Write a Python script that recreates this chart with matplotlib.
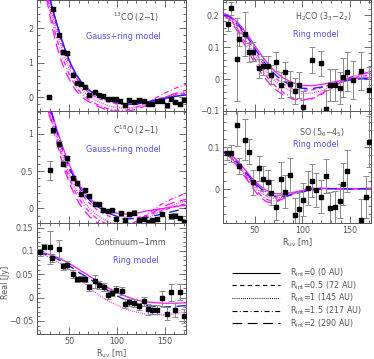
import numpy as np
import matplotlib.pyplot as plt
from matplotlib.lines import Line2D
from matplotlib.ticker import MultipleLocator

plt.rcParams['font.family'] = 'DejaVu Sans'
plt.rcParams['font.size'] = 5.8
plt.rcParams['lines.scale_dashes'] = False

GREY = '#555555'
BLUE = '#2020ff'
MAG = '#ff10ff'

# ---- observed visibilities ----
r_line = [29, 33, 39.3, 43.5, 47.6, 54, 58.4, 62.5, 66.4, 71, 77, 81.4, 85.9, 90.7, 94.9,
          98.7, 102.9, 108, 113, 118, 123, 128, 132.5, 137, 142, 146.6, 152, 156, 160.5,
          165.6, 169.5]
co13_val = [0.0, 2.54, 1.8, 1.3, 1.27, 0.63, 0.4, 0.37, 0.28, 0.06, 0.14, 0.05, 0.03, -0.04,
            -0.06, -0.05, -0.1, -0.23, -0.07, -0.14, -0.07, -0.12, -0.2, -0.19, -0.11, -0.1,
            -0.24, -0.06, -0.13, -0.2, -0.07]
co13_err = [0.04, 0.06, 0.06, 0.05, 0.05, 0.05, 0.04, 0.04, 0.04, 0.04, 0.04, 0.04, 0.04, 0.04,
            0.04, 0.04, 0.04, 0.05, 0.04, 0.04, 0.04, 0.04, 0.05, 0.05, 0.05, 0.05, 0.06, 0.05,
            0.05, 0.06, 0.06]

r_c18o = [30.2, 33, 39.3, 43.5, 47.6, 54, 58.4, 62.5, 66.4, 71, 77, 81.4, 85.9, 90.7, 94.9,
          98.7, 104.5, 108, 113, 118, 123, 128, 132.5, 137, 142, 146.6, 156, 160.5, 165.6,
          169.5]
c18o_val = [0.51, 1.05, 0.86, 0.6, 0.67, 0.41, 0.34, 0.19, 0.25, 0.17, 0.05, 0.05, -0.03,
            -0.04, -0.03, -0.14, -0.07, -0.16, -0.08, -0.06, -0.16, -0.15, -0.18, -0.16, -0.15,
            -0.08, -0.11, -0.1, -0.13, -0.18]
c18o_err = [0.13, 0.03, 0.04, 0.03, 0.03, 0.03, 0.02, 0.02, 0.02, 0.02, 0.02, 0.02, 0.02, 0.02,
            0.02, 0.02, 0.03, 0.02, 0.02, 0.03, 0.02, 0.02, 0.02, 0.02, 0.02, 0.03, 0.03, 0.03,
            0.03, 0.03]

r_cont = [19.8, 24.3, 30.2, 32.6, 39.3, 43.5, 47.6, 54, 58.4, 62.5, 66.4, 71, 77, 81.6, 86.2,
          91, 94.9, 98.7, 104.9, 108, 113, 118, 123, 128, 132.5, 137, 142, 147, 152, 156,
          160.5, 165.6, 169.5]
cont_val = [0.097, 0.109, 0.108, 0.085, 0.104, 0.067, 0.07, 0.051, 0.039, 0.041, 0.039, 0.022,
            0.035, 0.027, 0.023, 0.006, 0.01, 0.017, 0.014, -0.013, -0.01, -0.012, -0.019,
            -0.008, -0.025, -0.026, -0.026, -0.001, -0.035, 0.011, -0.026, 0.012, -0.04]
cont_err = [0.007, 0.005, 0.035, 0.008, 0.02, 0.008, 0.008, 0.008, 0.006, 0.006, 0.006, 0.008,
            0.014, 0.008, 0.008, 0.008, 0.006, 0.008, 0.008, 0.01, 0.008, 0.008, 0.008, 0.01,
            0.012, 0.01, 0.01, 0.016, 0.014, 0.018, 0.015, 0.018, 0.015]

r_h2co = [21.6, 25, 31.3, 33.4, 39.6, 44.1, 48.3, 54.5, 58.7, 63.6, 66.7, 72, 77.1, 81.6,
          86.5, 92, 96.2, 100.4, 110.1, 119.5, 124.7, 128.9, 133.7, 139.3, 143, 147.2,
          153.2, 161.8, 169.8]
h2co_val = [0.171, 0.221, 0.062, 0.124, 0.141, 0.083, 0.085, 0.033, 0.041, 0.041, 0.013,
            0.054, -0.019, 0.023, -0.016, -0.037, -0.019, -0.087, 0.059, 0.049, -0.095,
            -0.019, -0.019, -0.029, 0.005, 0.023, -0.003, 0.026, -0.034]
h2co_err = [0.02, 0.02, 0.13, 0.02, 0.07, 0.03, 0.03, 0.03, 0.03, 0.03, 0.03, 0.03, 0.04,
            0.03, 0.04, 0.04, 0.04, 0.05, 0.04, 0.04, 0.06, 0.05, 0.05, 0.05, 0.06, 0.06,
            0.06, 0.06, 0.07]

r_so = [20.5, 25, 31, 33.4, 39.6, 44.1, 48.3, 54.5, 58.7, 63.6, 66.7, 72, 77.1, 81.6, 86.5,
        92, 96.2, 100.4, 105.5, 110.1, 114.3, 119.5, 124.7, 128.9, 133.7, 139.3, 143,
        147.2, 161.8, 167, 169.8]
so_val = [0.085, 0.085, 0.152, 0.055, 0.118, 0.089, 0.016, 0.049, 0.025, 0.016, -0.009,
          -0.044, 0.025, -0.006, 0.033, -0.062, -0.048, -0.025, 0.002, 0.02, -0.002, -0.018,
          0.031, -0.046, -0.044, -0.029, 0.012, 0.044, -0.074, -0.02, 0.113]
so_err = [0.015, 0.02, 0.05, 0.02, 0.05, 0.03, 0.03, 0.03, 0.03, 0.03, 0.03, 0.03, 0.04,
          0.04, 0.04, 0.04, 0.04, 0.04, 0.04, 0.04, 0.04, 0.04, 0.04, 0.04, 0.04, 0.04, 0.05,
          0.05, 0.05, 0.05, 0.06]

# ---- model curves ----
r_model = [17, 22, 27, 32, 37, 42, 47, 52, 57, 62, 67, 72, 80, 90, 100, 110, 120, 130, 140,
           150, 160, 172]

co13_m0 = [3.9, 3.6, 3.2, 2.65, 2.15, 1.7, 1.3, 0.95, 0.68, 0.47, 0.3, 0.18, 0.04, -0.08,
           -0.16, -0.2, -0.2, -0.15, -0.09, -0.03, 0.02, 0.07]
co13_m05 = [3.9, 3.6, 3.15, 2.6, 2.05, 1.6, 1.2, 0.85, 0.58, 0.38, 0.22, 0.1, -0.03, -0.13,
            -0.2, -0.22, -0.2, -0.14, -0.07, 0.0, 0.06, 0.11]
co13_m1 = [3.9, 3.5, 3.0, 2.45, 1.9, 1.45, 1.05, 0.72, 0.46, 0.26, 0.12, 0.02, -0.12, -0.24,
           -0.3, -0.32, -0.28, -0.2, -0.1, 0.0, 0.08, 0.15]
co13_m15 = [3.9, 3.45, 2.9, 2.3, 1.7, 1.25, 0.87, 0.56, 0.32, 0.14, 0.0, -0.1, -0.22, -0.33,
            -0.38, -0.37, -0.3, -0.18, -0.03, 0.12, 0.25, 0.37]
co13_m2 = [3.9, 3.4, 2.8, 2.1, 1.5, 1.05, 0.7, 0.42, 0.2, 0.05, -0.07, -0.15, -0.27, -0.37,
           -0.42, -0.42, -0.35, -0.25, -0.12, 0.0, 0.1, 0.2]

c18o_m0 = [1.95, 1.75, 1.53, 1.3, 1.08, 0.88, 0.7, 0.54, 0.4, 0.29, 0.2, 0.13, 0.04, -0.03,
           -0.07, -0.08, -0.07, -0.04, -0.02, 0.0, 0.02, 0.04]
c18o_m05 = [1.9, 1.7, 1.5, 1.27, 1.04, 0.83, 0.63, 0.47, 0.33, 0.22, 0.13, 0.06, -0.03, -0.1,
            -0.14, -0.15, -0.13, -0.1, -0.06, -0.02, 0.02, 0.06]
c18o_m1 = [1.9, 1.68, 1.45, 1.2, 0.98, 0.77, 0.57, 0.4, 0.26, 0.15, 0.06, -0.01, -0.1, -0.18,
           -0.22, -0.23, -0.2, -0.15, -0.08, -0.01, 0.05, 0.1]
c18o_m15 = [1.9, 1.66, 1.42, 1.17, 0.95, 0.72, 0.52, 0.35, 0.21, 0.1, 0.01, -0.06, -0.15,
            -0.22, -0.25, -0.24, -0.18, -0.1, 0.0, 0.08, 0.14, 0.2]
c18o_m2 = [1.9, 1.64, 1.38, 1.13, 0.9, 0.66, 0.46, 0.29, 0.15, 0.04, -0.05, -0.12, -0.2,
           -0.26, -0.28, -0.26, -0.2, -0.12, -0.04, 0.03, 0.08, 0.12]
c18o_best = [1.9, 1.7, 1.5, 1.28, 1.05, 0.85, 0.66, 0.5, 0.37, 0.26, 0.17, 0.1, 0.02, -0.06,
             -0.11, -0.14, -0.14, -0.13, -0.1, -0.07, -0.04, 0.0]

cont_m0 = [0.098, 0.096, 0.094, 0.091, 0.087, 0.082, 0.077, 0.071, 0.065, 0.058, 0.052, 0.045,
           0.035, 0.022, 0.011, 0.002, -0.005, -0.009, -0.011, -0.012, -0.012, -0.011]
cont_best = [0.097, 0.095, 0.092, 0.088, 0.084, 0.078, 0.072, 0.066, 0.059, 0.052, 0.046,
             0.039, 0.029, 0.016, 0.004, -0.006, -0.013, -0.017, -0.019, -0.02, -0.019, -0.017]
cont_m1 = [0.096, 0.093, 0.089, 0.084, 0.078, 0.072, 0.066, 0.057, 0.048, 0.038, 0.029, 0.02,
           0.007, -0.006, -0.016, -0.025, -0.031, -0.035, -0.037, -0.037, -0.035, -0.03]

h2co_m0 = [0.205, 0.2, 0.19, 0.177, 0.16, 0.14, 0.118, 0.096, 0.075, 0.055, 0.037, 0.022,
           0.003, -0.012, -0.02, -0.021, -0.017, -0.011, -0.005, 0.0, 0.003, 0.004]
h2co_best = [0.2, 0.197, 0.187, 0.172, 0.153, 0.132, 0.11, 0.087, 0.065, 0.045, 0.027, 0.012,
             -0.007, -0.022, -0.029, -0.03, -0.025, -0.017, -0.009, -0.003, 0.0, 0.002]
h2co_m05 = [0.2, 0.195, 0.185, 0.168, 0.148, 0.125, 0.102, 0.078, 0.055, 0.035, 0.017, 0.002,
            -0.016, -0.03, -0.035, -0.034, -0.027, -0.017, -0.007, 0.002, 0.008, 0.012]
h2co_m1 = [0.2, 0.193, 0.18, 0.162, 0.14, 0.115, 0.09, 0.066, 0.043, 0.023, 0.006, -0.008,
           -0.026, -0.04, -0.046, -0.044, -0.036, -0.024, -0.011, 0.002, 0.012, 0.02]
h2co_m15 = [0.2, 0.192, 0.177, 0.155, 0.13, 0.104, 0.078, 0.053, 0.03, 0.01, -0.008, -0.023,
            -0.042, -0.06, -0.067, -0.062, -0.048, -0.03, -0.012, 0.004, 0.016, 0.024]
h2co_m2 = [0.2, 0.19, 0.173, 0.148, 0.12, 0.093, 0.066, 0.041, 0.018, -0.002, -0.019, -0.033,
           -0.05, -0.063, -0.066, -0.06, -0.046, -0.028, -0.01, 0.005, 0.015, 0.022]

so_m0 = [0.09, 0.086, 0.078, 0.067, 0.054, 0.04, 0.026, 0.015, 0.005, -0.003, -0.008, -0.011,
         -0.012, -0.008, -0.004, -0.001, 0.001, 0.001, 0.001, 0.001, 0.001, 0.002]
so_best = [0.088, 0.084, 0.075, 0.063, 0.05, 0.036, 0.022, 0.01, 0.0, -0.008, -0.014, -0.017,
           -0.018, -0.013, -0.007, -0.002, 0.0, 0.001, 0.001, 0.0, 0.0, 0.001]
so_m05 = [0.088, 0.083, 0.073, 0.06, 0.046, 0.032, 0.018, 0.006, -0.004, -0.012, -0.017,
          -0.019, -0.018, -0.012, -0.005, -0.001, 0.001, 0.001, 0.001, 0.0, 0.001, 0.001]
so_m1 = [0.087, 0.082, 0.071, 0.058, 0.044, 0.03, 0.015, 0.002, -0.009, -0.017, -0.021,
         -0.022, -0.019, -0.011, -0.004, 0.0, 0.001, 0.001, 0.001, 0.0, 0.001, 0.001]
so_m15 = [0.087, 0.081, 0.07, 0.056, 0.041, 0.026, 0.01, -0.004, -0.016, -0.024, -0.028,
          -0.028, -0.022, -0.012, -0.003, 0.001, 0.002, 0.001, 0.0, 0.0, 0.001, 0.001]
so_m2 = [0.087, 0.08, 0.068, 0.053, 0.038, 0.022, 0.005, -0.01, -0.022, -0.03, -0.033,
         -0.031, -0.023, -0.011, -0.002, 0.002, 0.002, 0.001, 0.0, 0.0, 0.001, 0.001]

legend_labels = [r'R$_{\rm int}$=0 (0 AU)', r'R$_{\rm int}$=0.5 (72 AU)',
                 r'R$_{\rm int}$=1 (145 AU)', r'R$_{\rm int}$=1.5 (217 AU)',
                 r'R$_{\rm int}$=2 (290 AU)']

# line styles for R_int = 0, 0.5, 1, 1.5, 2
STYLES = [(0, ()), (0, (3, 2.5)), (0, (0.6, 0.9)), (0, (3.5, 1.8, 0.6, 1.8)), (0, (7, 4))]


def style_axes(ax, xlim, ylim, major, minor, xlabels):
    ax.set_xlim(*xlim)
    ax.set_ylim(*ylim)
    ax.xaxis.set_major_locator(MultipleLocator(50))
    ax.xaxis.set_minor_locator(MultipleLocator(10))
    ax.yaxis.set_major_locator(MultipleLocator(major))
    ax.yaxis.set_minor_locator(MultipleLocator(minor))
    ax.tick_params(which='both', direction='in', top=True, right=True, colors=GREY,
                   labelcolor=GREY, width=0.6, pad=2.5)
    ax.tick_params(which='major', length=5)
    ax.tick_params(which='minor', length=2.5)
    if not xlabels:
        ax.tick_params(labelbottom=False)
    for s in ax.spines.values():
        s.set_color(GREY)
        s.set_linewidth(0.7)
    ax.yaxis.set_major_formatter(
        plt.FuncFormatter(lambda v, p: f'{round(v, 6):g}'.replace('-', '\u2212')))


def draw_data(ax, r, val, err):
    ax.errorbar(r, val, yerr=err, fmt='s', color='black', ms=3.2, ecolor='#8a8a8a',
                elinewidth=0.7, capsize=2, capthick=0.7, zorder=5)


def draw_models(ax, curves, best, best_style):
    for curve, ls in zip(curves, STYLES):
        if curve is not None:
            ax.plot(r_model, curve, color=MAG, ls=ls, lw=0.9, zorder=3)
    ax.plot(r_model, best, color=BLUE, ls=best_style, lw=1.0, zorder=4)


fig = plt.figure(figsize=(3.74, 3.59), dpi=100)
W, H = 374.0, 359.0


def panel(x0, x1, ytop, ybot):
    return fig.add_axes([x0 / W, 1 - ybot / H, (x1 - x0) / W, (ybot - ytop) / H])


xlim = (16.7, 172)

# 13CO
ax1 = panel(37, 186, 0, 111)
draw_models(ax1, [co13_m0, co13_m05, co13_m1, co13_m15, co13_m2], co13_m0, STYLES[0])
draw_data(ax1, r_line, co13_val, co13_err)
style_axes(ax1, xlim, (-0.4, 2.81), 1, 0.2, False)
ax1.text(0.665, 0.84, r'$^{13}$CO (2$-$1)', transform=ax1.transAxes, ha='center',
         va='center', color=GREY)
ax1.text(0.577, 0.67, 'Gauss+ring model', transform=ax1.transAxes, ha='center',
         va='center', color='#5050ff')

# C18O
ax2 = panel(37, 186, 111, 223)
draw_models(ax2, [c18o_m0, c18o_m05, c18o_m1, c18o_m15, c18o_m2], c18o_best, STYLES[4])
draw_data(ax2, r_c18o, c18o_val, c18o_err)
style_axes(ax2, xlim, (-0.2, 1.31), 0.5, 0.1, False)
ax2.text(0.665, 0.83, r'C$^{18}$O (2$-$1)', transform=ax2.transAxes, ha='center',
         va='center', color=GREY)
ax2.text(0.577, 0.66, 'Gauss+ring model', transform=ax2.transAxes, ha='center',
         va='center', color='#5050ff')

# continuum
ax3 = panel(37, 186, 223, 334)
draw_models(ax3, [cont_m0, None, cont_m1, None, None], cont_best, STYLES[4])
draw_data(ax3, r_cont, cont_val, cont_err)
style_axes(ax3, xlim, (-0.078, 0.16), 0.05, 0.01, True)
ax3.text(0.624, 0.82, 'Continuum\u22121mm', transform=ax3.transAxes, ha='center',
         va='center', color=GREY)
ax3.text(0.664, 0.658, 'Ring model', transform=ax3.transAxes, ha='center',
         va='center', color='#5050ff')
fig.text(111 / W, 1 - 353.5 / H, r'R$_{\rm uv}$ [m]', color=GREY, ha='center',
         va='center')
fig.text(5.5 / W, 1 - 282 / H, 'Real [Jy]', color=GREY, ha='center', va='center',
         rotation=90)

# H2CO
ax4 = panel(223, 371, 0, 111)
draw_models(ax4, [h2co_m0, h2co_m05, h2co_m1, h2co_m15, h2co_m2], h2co_best, STYLES[4])
draw_data(ax4, r_h2co, h2co_val, h2co_err)
style_axes(ax4, xlim, (-0.1, 0.247), 0.1, 0.02, False)
ax4.text(0.676, 0.85, r'H$_2$CO (3$_3$$-$2$_2$)', transform=ax4.transAxes, ha='center',
         va='center', color=GREY)
ax4.text(0.63, 0.69, 'Ring model', transform=ax4.transAxes, ha='center',
         va='center', color='#5050ff')

# SO
ax5 = panel(223, 371, 111, 223)
draw_models(ax5, [so_m0, so_m05, so_m1, so_m15, so_m2], so_best, STYLES[4])
draw_data(ax5, r_so, so_val, so_err)
style_axes(ax5, xlim, (-0.081, 0.186), 0.1, 0.02, True)
ax5.set_yticks([0, 0.1])
ax5.set_yticklabels(['0', '0.1'])
ax5.text(0.67, 0.81, r'SO (5$_6$$-$4$_5$)', transform=ax5.transAxes, ha='center',
         va='center', color=GREY)
ax5.text(0.63, 0.70, 'Ring model', transform=ax5.transAxes, ha='center',
         va='center', color='#5050ff')
ax5.set_xlabel(r'R$_{\rm uv}$ [m]', color=GREY, labelpad=1)

# legend for the inner radius line styles
handles = [Line2D([], [], color='black', ls=ls, lw=0.8) for ls in STYLES]
fig.legend(handles, legend_labels, loc='upper left', bbox_to_anchor=(226 / W, 1 - 261 / H),
           frameon=False, handlelength=6.0, handletextpad=1.2, labelspacing=0.02,
           labelcolor=GREY, fontsize=5.8, borderpad=0.2)

fig.savefig('out.png', dpi=100)
